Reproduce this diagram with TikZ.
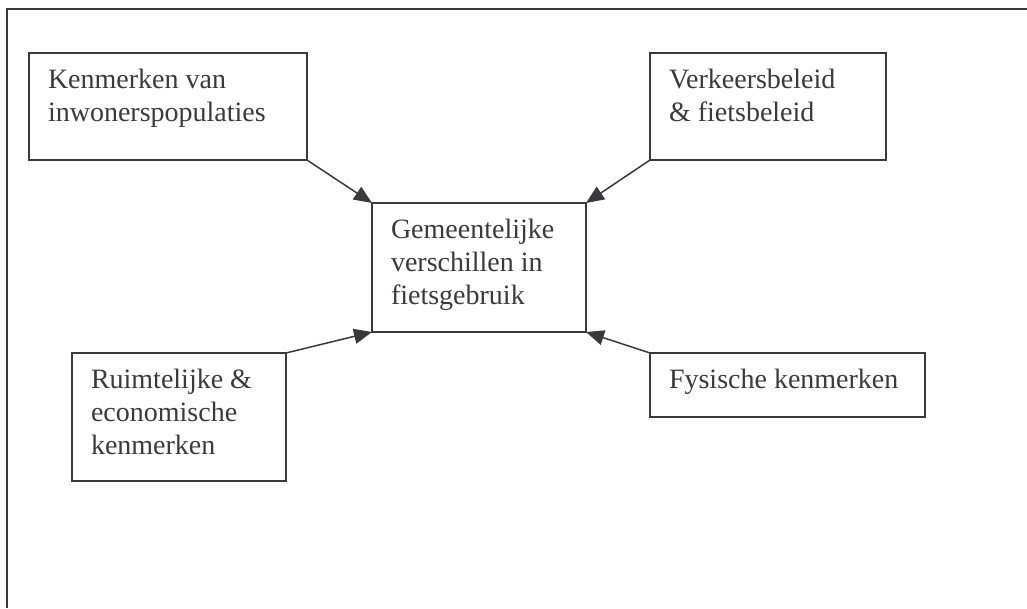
\documentclass[tikz,border=0pt]{standalone}
\usepackage{fontspec}
\setmainfont{Liberation Serif}
\usepackage{xcolor}
\usepackage{tikz}
\usetikzlibrary{arrows.meta}
\definecolor{Ink}{HTML}{3A3A3C}
\newcommand{\boxtext}[3]{\parbox[c][#1pt][t]{#2pt}{\raggedright\rule{0pt}{35pt}#3}}

\begin{document}
\begin{tikzpicture}[x=1pt, y=-1pt, every node/.style={font=\fontsize{28}{33}\selectfont, text=Ink},
    factor/.style={draw=Ink, line width=1.5pt, anchor=north west, inner xsep=19pt, inner ysep=0pt, outer sep=0pt},
    arr/.style={-{Triangle[length=18pt,width=15pt]}, line width=1.5pt, draw=Ink, fill=Ink}]
  \useasboundingbox (0,0) rectangle (1027,608);
  \draw[Ink, line width=1.7pt] (7,608) -- (7,9) -- (1027,9);

  \node[factor] (pop)  at (29,53)   {\boxtext{107}{240}{Kenmerken van\\inwonerspopulaties}};
  \node[factor] (pol)  at (650,53)  {\boxtext{107}{198}{Verkeersbeleid\\\& fietsbeleid}};
  \node[factor] (mid)  at (372,203) {\boxtext{129}{176}{Gemeentelijke\\verschillen in\\fietsgebruik}};
  \node[factor] (ruim) at (72,353)  {\boxtext{128}{176}{Ruimtelijke \&\\economische\\kenmerken}};
  \node[factor] (fys)  at (650,353) {\boxtext{64}{237}{Fysische kenmerken}};

  \foreach \a/\b in {pop.south east/mid.north west, pol.south west/mid.north east,
                     ruim.north east/mid.south west, fys.north west/mid.south east}
    \draw[arr] (\a) -- (\b);
\end{tikzpicture}
\end{document}
